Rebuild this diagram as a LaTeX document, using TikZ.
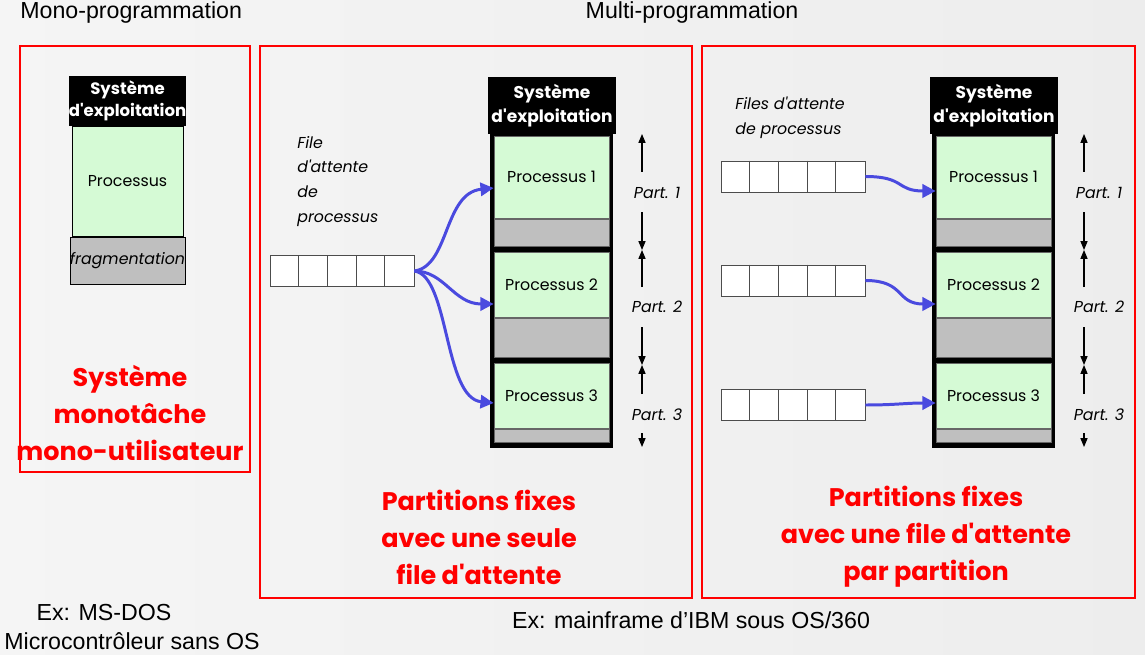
\documentclass[tikz,border=0pt]{standalone}
\usepackage{fontspec}
\setmainfont{Liberation Sans}
\newfontfamily\geo{Poppins}
\usetikzlibrary{arrows.meta,positioning}
\definecolor{procgreen}{HTML}{D5FAD5}
\definecolor{fraggray}{HTML}{BFBFBF}
\definecolor{feedblue}{HTML}{4A4ADF}

\begin{document}
\begin{tikzpicture}[x=0.02cm,y=-0.02cm,
    zone/.style={draw=red,line width=0.6pt},
    caption/.style={inner sep=0pt,font=\fontsize{13.2}{15}\selectfont},
    redlabel/.style={text=red,align=center,font=\geo\bfseries\fontsize{14.5}{21}\selectfont},
    ostitle/.style={fill=black,text=white,align=center,inner sep=0pt,font=\geo\bfseries\fontsize{9.7}{13.5}\selectfont},
    proc/.style={fill=procgreen,draw=black!60,line width=0.4pt,inner sep=0pt,minimum width=2.3cm,font=\geo\fontsize{9}{11}\selectfont},
    frag/.style={fill=fraggray,draw=black!60,line width=0.4pt,inner sep=0pt,minimum width=2.3cm},
    queue/.style={draw=black!70,line width=0.5pt,minimum width=2.88cm,minimum height=0.62cm,inner sep=0pt,fill=white},
    qlabel/.style={align=left,inner sep=0pt,font=\geo\itshape\fontsize{9}{14}\selectfont},
    partlabel/.style={font=\geo\itshape\fontsize{9}{11}\selectfont},
    feed/.style={draw=feedblue,line width=1.7pt,-{Triangle[length=7.5pt,width=7.5pt]}},
    bound/.style={line width=0.6pt,-{Triangle[length=5pt,width=4pt]}}
  ]
  \useasboundingbox (0,0) rectangle (1145,655);
  \shade[left color=gray!8,middle color=white,right color=gray!14] (0,0) rectangle (1145,655);

  % titles and examples
  \node[caption,anchor=west] (monoT) at (20,13) {Mono-programmation};
  \node[caption] (multiT) at (692,13) {Multi-programmation};
  \node[caption] (exA) at (104,613) {Ex: MS-DOS};
  \node[caption] (exA2) at (132,641) {Microcontrôleur sans OS};
  \node[caption] (exB) at (691,620) {Ex: mainframe d’IBM sous OS/360};

  % the three frames
  \draw[zone] (20,46) rectangle (250,472);
  \draw[zone] (260,46) rectangle (692,598);
  \draw[zone] (702,46) rectangle (1135,598);

  % mono-programmation memory
  \node[ostitle,minimum width=2.3cm,minimum height=1cm,font=\geo\bfseries\fontsize{9.4}{12.5}\selectfont] (osA) at (127.5,101) {Système\\d'exploitation};
  \node[proc,draw=black,minimum width=2.22cm,minimum height=2.2cm] (pA) at (127.5,181) {Processus};
  \node[frag,draw=black,minimum width=2.22cm,minimum height=0.94cm,font=\geo\itshape\fontsize{9}{11}\selectfont] (fA) at (127.5,260.5) {fragmentation};
  \node[redlabel] (lblA) at (130,413) {Système\\monotâche\\mono-utilisateur};

  % fixed partitions, both frames
  \foreach \c/\dx in {B/0,C/442}{
    \begin{scope}[shift={(\dx,0)}]
      \fill (490,134) rectangle (613,448);
      \node[ostitle,minimum width=2.56cm,minimum height=1.14cm] (os\c) at (552,105.5) {Système\\d'exploitation};
      \node[proc,minimum height=1.64cm] (p\c1) at (551.5,177) {Processus 1};
      \node[frag,minimum height=0.54cm] (f\c1) at (551.5,232.5) {};
      \node[proc,minimum height=1.3cm] (p\c2) at (551.5,284.5) {Processus 2};
      \node[frag,minimum height=0.78cm] (f\c2) at (551.5,337.5) {};
      \node[proc,minimum height=1.3cm] (p\c3) at (551.5,395.5) {Processus 3};
      \node[frag,minimum height=0.26cm] (f\c3) at (551.5,435.5) {};
      % partition sizes
      \node[partlabel] (part\c1) at (657,193) {Part. 1};
      \node[partlabel] (part\c2) at (657,307) {Part. 2};
      \node[partlabel] (part\c3) at (657,415) {Part. 3};
      \draw[bound] (642,172) -- (642,134);
      \draw[bound] (642,212) -- (642,250);
      \draw[bound] (642,287) -- (642,250);
      \draw[bound] (642,327) -- (642,365);
      \draw[bound] (642,394) -- (642,365);
      \draw[bound] (642,433) -- (642,447);
    \end{scope}
  }

  % one queue for all partitions
  \node[qlabel,anchor=north west] (qlabA) at (297,136) {File\\d'attente\\de\\processus};
  \node[queue] (qA) at (342,271) {};
  \draw[feed] (qA.east) .. controls +(35,-5) and +(-50,5) .. ([yshift=-0.22cm]pB1.west);
  \draw[feed] (qA.east) .. controls +(30,0) and +(-40,0) .. ([yshift=-0.39cm]pB2.west);
  \draw[feed] (qA.east) .. controls +(35,5) and +(-50,-5) .. ([yshift=-0.15cm]pB3.west);

  % one queue per partition
  \node[qlabel,anchor=north west] (qlabC) at (735,97) {Files d'attente\\de processus};
  \node[queue] (qC1) at (793,176.5) {};
  \node[queue] (qC2) at (793,280.5) {};
  \node[queue] (qC3) at (793,405) {};
  \draw[feed] (qC1.east) .. controls +(40,0) and +(-40,0) .. ([yshift=-0.28cm]pC1.west);
  \draw[feed] (qC2.east) .. controls +(40,0) and +(-40,0) .. ([yshift=-0.39cm]pC2.west);
  \draw[feed] (qC3.east) .. controls +(30,0) and +(-30,0) .. ([yshift=-0.15cm]pC3.west);

  \foreach \q in {qA,qC1,qC2,qC3}
    \foreach \i in {1,...,4}
      \draw[black!70,line width=0.5pt] ([xshift=\i*0.576cm]\q.north west) -- ([xshift=\i*0.576cm]\q.south west);

  \node[redlabel] (lblB) at (479,537) {Partitions fixes\\avec une seule\\file d'attente};
  \node[redlabel] (lblC) at (926,537) {Partitions fixes\\avec une file d'attente\\par partition};
\end{tikzpicture}
\end{document}
